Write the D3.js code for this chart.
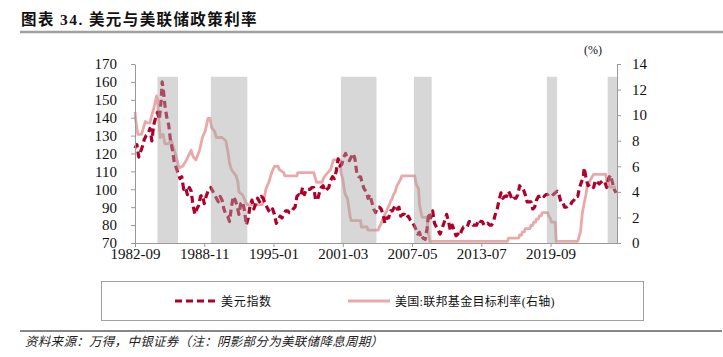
<!DOCTYPE html>
<html><head><meta charset="utf-8">
<script src="https://cdn.jsdelivr.net/npm/d3@7/dist/d3.min.js"></script>
<style>body{margin:0;background:#fff}svg{display:block}</style>
</head><body>
<svg id="c" width="723" height="357"></svg>
<script>
// ---------------- data ----------------
const titleText = "图表 34. 美元与美联储政策利率";
const sourceText = "资料来源：万得，中银证券（注：阴影部分为美联储降息周期）";
const unitText = "(%)";
const legendLabels = ["美元指数", "美国:联邦基金目标利率(右轴)"];
const xTickLabels = ["1982-09","1988-11","1995-01","2001-03","2007-05","2013-07","2019-09"];
const leftTicks = [70,80,90,100,110,120,130,140,150,160,170];
const rightTicks = [0,2,4,6,8,10,12,14];
const startMonth = "1982-09";
const endMonth = "2025-08";
const bandTop = 13; // right-axis units

// Fed easing cycles (shaded)
const cutCycles = [
  ["1984-09","1986-07"],
  ["1989-06","1992-09"],
  ["2001-01","2004-03"],
  ["2007-07","2009-02"],
  ["2019-05","2020-04"],
  ["2024-10","2025-08"]
];

// US dollar index
const dollarIndex = [
["1982-09",123],["1982-11",125],["1983-01",118],["1983-03",121],["1983-05",124],["1983-07",128],
["1983-09",130],["1983-11",131],["1984-01",134],["1984-03",127],["1984-05",136],["1984-07",140],
["1984-09",143],["1984-11",139],["1985-01",150],["1985-02",160],["1985-03",157],["1985-05",147],
["1985-07",140],["1985-09",136],["1985-11",127],["1986-01",122],["1986-03",115],["1986-05",112],
["1986-07",109],["1986-09",106],["1986-11",107],["1987-01",100],["1987-03",101],["1987-05",97],
["1987-07",101],["1987-09",99],["1987-11",91],["1988-01",86],["1988-03",89],["1988-05",91],
["1988-07",96],["1988-09",97],["1988-11",92],["1989-01",96],["1989-03",99],["1989-06",101],
["1989-08",99],["1989-10",97],["1989-12",95],["1990-02",93],["1990-04",96],["1990-06",94],
["1990-08",89],["1990-10",86],["1990-12",85],["1991-02",82],["1991-04",90],["1991-06",96],
["1991-08",94],["1991-10",91],["1991-12",86],["1992-02",92],["1992-04",93],["1992-06",88],
["1992-08",80],["1992-10",84],["1992-12",91],["1993-02",94],["1993-04",89],["1993-06",92],
["1993-08",95],["1993-10",93],["1993-12",96],["1994-02",95],["1994-04",92],["1994-06",90],
["1994-08",88],["1994-10",87],["1994-12",89],["1995-02",86],["1995-04",81],["1995-06",83],
["1995-08",85],["1995-10",84],["1995-12",86],["1996-02",88],["1996-04",88],["1996-06",87],
["1996-08",87],["1996-10",89],["1996-12",90],["1997-02",96],["1997-04",97],["1997-06",96],
["1997-08",101],["1997-10",97],["1997-12",100],["1998-02",100],["1998-04",100],["1998-06",101],
["1998-08",101],["1998-10",94],["1998-12",94],["1999-02",98],["1999-04",101],["1999-06",102],
["1999-08",99],["1999-10",100],["1999-12",101],["2000-02",105],["2000-04",107],["2000-06",106],
["2000-08",110],["2000-10",117],["2000-12",113],["2001-02",114],["2001-04",118],["2001-06",120],
["2001-08",117],["2001-10",116],["2001-12",118],["2002-02",120],["2002-04",117],["2002-06",109],
["2002-08",107],["2002-10",107],["2002-12",103],["2003-02",100],["2003-04",99],["2003-06",95],
["2003-08",97],["2003-10",93],["2003-12",89],["2004-02",87],["2004-04",90],["2004-06",90],
["2004-08",89],["2004-10",86],["2004-12",81],["2005-02",84],["2005-04",84],["2005-06",88],
["2005-08",88],["2005-11",91],["2006-01",89],["2006-03",90],["2006-05",85],["2006-07",86],
["2006-09",86],["2006-11",84],["2007-01",85],["2007-03",83],["2007-05",82],["2007-07",80],
["2007-09",78],["2007-11",75],["2008-01",76],["2008-03",72],["2008-05",73],["2008-07",72],
["2008-09",78],["2008-11",87],["2009-01",84],["2009-03",88],["2009-05",81],["2009-07",79],
["2009-09",77],["2009-11",75],["2010-01",78],["2010-03",81],["2010-06",86],["2010-08",82],
["2010-10",77],["2010-12",80],["2011-02",77],["2011-04",74],["2011-06",75],["2011-08",74],
["2011-10",77],["2011-12",79],["2012-02",79],["2012-04",79],["2012-06",82],["2012-08",82],
["2012-10",80],["2012-12",80],["2013-02",80],["2013-04",83],["2013-06",82],["2013-08",82],
["2013-10",80],["2013-12",80],["2014-02",81],["2014-04",80],["2014-06",80],["2014-08",82],
["2014-10",86],["2014-12",89],["2015-02",94],["2015-04",98],["2015-06",95],["2015-08",96],
["2015-10",96],["2015-12",99],["2016-02",97],["2016-04",94],["2016-06",95],["2016-08",95],
["2016-10",97],["2016-12",102],["2017-02",100],["2017-04",100],["2017-06",97],["2017-08",93],
["2017-10",93],["2017-12",93],["2018-02",89],["2018-04",90],["2018-06",94],["2018-08",96],
["2018-10",96],["2018-12",97],["2019-02",96],["2019-04",97],["2019-06",97],["2019-08",98],
["2019-10",98],["2019-12",97],["2020-02",98],["2020-04",99],["2020-06",97],["2020-08",93],
["2020-10",93],["2020-12",90],["2021-02",90],["2021-04",91],["2021-06",91],["2021-08",93],
["2021-10",94],["2021-12",96],["2022-02",96],["2022-04",101],["2022-06",104],["2022-08",107],
["2022-09",112],["2022-11",106],["2023-01",102],["2023-03",103],["2023-05",102],["2023-07",101],
["2023-09",105],["2023-11",104],["2024-01",103],["2024-03",104],["2024-05",105],["2024-07",104],
["2024-09",101],["2024-11",106],["2025-01",108],["2025-03",104],["2025-05",100],["2025-07",98]
];

// US federal funds target rate (%)
const fedRate = [
["1982-09",10.25],["1982-10",9.5],["1982-12",8.5],["1983-04",8.5],["1983-06",9.0],["1983-08",9.5],
["1983-10",9.4],["1984-01",9.4],["1984-03",10.0],["1984-05",10.5],["1984-08",11.5],["1984-09",11.25],
["1984-10",10.0],["1984-12",8.25],["1985-03",8.5],["1985-05",7.75],["1985-08",7.75],["1985-12",8.0],
["1986-03",7.25],["1986-05",6.75],["1986-08",5.875],["1986-12",6.0],["1987-04",6.5],["1987-09",7.25],
["1987-11",6.75],["1988-02",6.5],["1988-06",7.25],["1988-09",8.25],["1988-12",8.75],["1989-03",9.75],
["1989-05",9.75],["1989-07",9.0],["1989-10",8.75],["1989-12",8.25],["1990-06",8.25],["1990-10",8.0],
["1990-12",7.25],["1991-02",6.25],["1991-04",5.75],["1991-09",5.25],["1991-11",4.75],["1991-12",4.0],
["1992-04",3.75],["1992-07",3.25],["1992-09",3.0],["1994-01",3.0],["1994-02",3.25],["1994-03",3.5],
["1994-05",4.25],["1994-08",4.75],["1994-11",5.5],["1995-02",6.0],["1995-06",6.0],["1995-07",5.75],
["1995-12",5.5],["1996-01",5.25],["1997-02",5.25],["1997-03",5.5],["1998-08",5.5],["1998-09",5.25],
["1998-10",5.0],["1998-11",4.75],["1999-05",4.75],["1999-06",5.0],["1999-08",5.25],["1999-11",5.5],
["2000-02",5.75],["2000-03",6.0],["2000-05",6.5],["2000-12",6.5],["2001-01",5.5],["2001-03",5.0],
["2001-04",4.5],["2001-05",4.0],["2001-06",3.75],["2001-08",3.5],["2001-09",3.0],["2001-10",2.5],
["2001-11",2.0],["2001-12",1.75],["2002-10",1.75],["2002-11",1.25],["2003-05",1.25],["2003-06",1.0],
["2004-05",1.0],["2004-06",1.25],["2004-08",1.5],["2004-09",1.75],["2004-11",2.0],["2004-12",2.25],
["2005-02",2.5],["2005-03",2.75],["2005-05",3.0],["2005-06",3.25],["2005-08",3.5],["2005-09",3.75],
["2005-11",4.0],["2005-12",4.25],["2006-01",4.5],["2006-03",4.75],["2006-05",5.0],["2006-06",5.25],
["2007-08",5.25],["2007-09",4.75],["2007-10",4.5],["2007-12",4.25],["2008-01",3.0],["2008-03",2.25],
["2008-04",2.0],["2008-09",2.0],["2008-10",1.0],["2008-12",0.125],["2015-11",0.125],["2015-12",0.375],
["2016-11",0.375],["2016-12",0.625],["2017-02",0.625],["2017-03",0.875],["2017-05",0.875],["2017-06",1.125],
["2017-11",1.125],["2017-12",1.375],["2018-02",1.375],["2018-03",1.625],["2018-05",1.625],["2018-06",1.875],
["2018-08",1.875],["2018-09",2.125],["2018-11",2.125],["2018-12",2.375],["2019-06",2.375],["2019-07",2.125],
["2019-09",1.875],["2019-10",1.625],["2020-02",1.625],["2020-03",0.125],["2022-02",0.125],["2022-03",0.375],
["2022-05",0.875],["2022-06",1.625],["2022-07",2.375],["2022-09",3.125],["2022-11",3.875],["2022-12",4.375],
["2023-02",4.625],["2023-03",4.875],["2023-05",5.125],["2023-07",5.375],["2024-08",5.375],["2024-09",4.875],
["2024-11",4.625],["2024-12",4.375],["2025-07",4.375]
];

// ---------------- chart ----------------
const monthIndex = s => { const [y, m] = s.split("-").map(Number); return (y - 1982) * 12 + (m - 9); };
const xTickIdx = xTickLabels.map(monthIndex);

const svg = d3.select("#c");
const serif = "'Liberation Serif','Times New Roman','Noto Sans CJK SC',serif";
const cjk = "'Liberation Serif','Noto Sans CJK SC',sans-serif";

const x = d3.scaleLinear().domain([monthIndex(startMonth), monthIndex(endMonth)]).range([135, 617]);
const yL = d3.scaleLinear().domain([70, 170]).range([243, 64]);
const yR = d3.scaleLinear().domain([0, 14]).range([243, 64]);

// title
svg.append("text").attr("x", 21).attr("y", 25)
  .attr("font-family", cjk).attr("font-size", 15.5).attr("font-weight", "bold").attr("fill", "#111")
  .attr("letter-spacing", 1.4)
  .text(titleText);
svg.append("line").attr("x1", 20).attr("x2", 723).attr("y1", 32).attr("y2", 32)
  .attr("stroke", "#a0a0a0").attr("stroke-width", 2.5);

// unit
svg.append("text").attr("x", 602).attr("y", 54).attr("text-anchor", "end")
  .attr("font-family", serif).attr("font-size", 12).attr("fill", "#111").text(unitText);

// lines
const fedLine = d3.line().x(d => x(monthIndex(d[0]))).y(d => yR(d[1]));
const dxyLine = d3.line().x(d => x(monthIndex(d[0]))).y(d => yL(d[1]));

svg.append("path").datum(fedRate).attr("d", fedLine)
  .attr("fill", "none").attr("stroke", "#eaa9a9").attr("stroke-width", 2.8).attr("stroke-linejoin", "round");
svg.append("path").datum(dollarIndex).attr("d", dxyLine)
  .attr("fill", "none").attr("stroke", "#b0002a").attr("stroke-width", 3.2)
  .attr("stroke-dasharray", "7,4").attr("stroke-linejoin", "round");

// shading (over lines)
svg.append("g").selectAll("rect").data(cutCycles).join("rect")
  .attr("x", d => x(monthIndex(d[0])))
  .attr("width", d => x(monthIndex(d[1])) - x(monthIndex(d[0])))
  .attr("y", yR(bandTop)).attr("height", yR(0) - yR(bandTop))
  .attr("fill", "#a6a6a6").attr("fill-opacity", 0.45);

// axes
const axisColor = "#999";
function styleAxis(g) {
  g.selectAll("path,line").attr("stroke", axisColor);
  g.selectAll("text").attr("font-family", serif).attr("font-size", 15).attr("fill", "#111");
}
const gl = svg.append("g").attr("transform", "translate(135,0)")
  .call(d3.axisLeft(yL).tickValues(leftTicks).tickSize(4).tickSizeOuter(0).tickPadding(14).tickFormat(d3.format("d")));
styleAxis(gl);
const gr = svg.append("g").attr("transform", "translate(617,0)")
  .call(d3.axisRight(yR).tickValues(rightTicks).tickSize(4).tickSizeOuter(0).tickPadding(11).tickFormat(d3.format("d")));
styleAxis(gr);
const gb = svg.append("g").attr("transform", "translate(0,243)")
  .call(d3.axisBottom(x).tickValues(xTickIdx).tickSize(4).tickSizeOuter(0).tickFormat((d, i) => xTickLabels[i]));
styleAxis(gb);
gb.selectAll("text").attr("y", 16).attr("dy", 0);

// legend
svg.append("rect").attr("x", 101.5).attr("y", 281.5).attr("width", 542).attr("height", 39)
  .attr("fill", "none").attr("stroke", "#a0a0a0").attr("stroke-width", 1);
svg.append("line").attr("x1", 175).attr("x2", 217).attr("y1", 301).attr("y2", 301)
  .attr("stroke", "#b0002a").attr("stroke-width", 3).attr("stroke-dasharray", "7,4");
svg.append("text").attr("x", 221).attr("y", 306).attr("font-family", cjk).attr("font-size", 12)
  .attr("letter-spacing", 0.7).attr("fill", "#111").text(legendLabels[0]);
svg.append("line").attr("x1", 348).attr("x2", 390).attr("y1", 301).attr("y2", 301)
  .attr("stroke", "#eaa9a9").attr("stroke-width", 2.8);
svg.append("text").attr("x", 395).attr("y", 306).attr("font-family", cjk).attr("font-size", 12)
  .attr("letter-spacing", 0.3).attr("fill", "#111").text(legendLabels[1]);

// footer
svg.append("line").attr("x1", 20).attr("x2", 722).attr("y1", 331).attr("y2", 331)
  .attr("stroke", "#111").attr("stroke-width", 1.2);
svg.append("text").attr("x", 25).attr("y", 346).attr("font-family", cjk).attr("font-size", 12.5)
  .attr("letter-spacing", 0.3)
  .attr("font-style", "italic").attr("fill", "#222").text(sourceText);
</script>
</body></html>
